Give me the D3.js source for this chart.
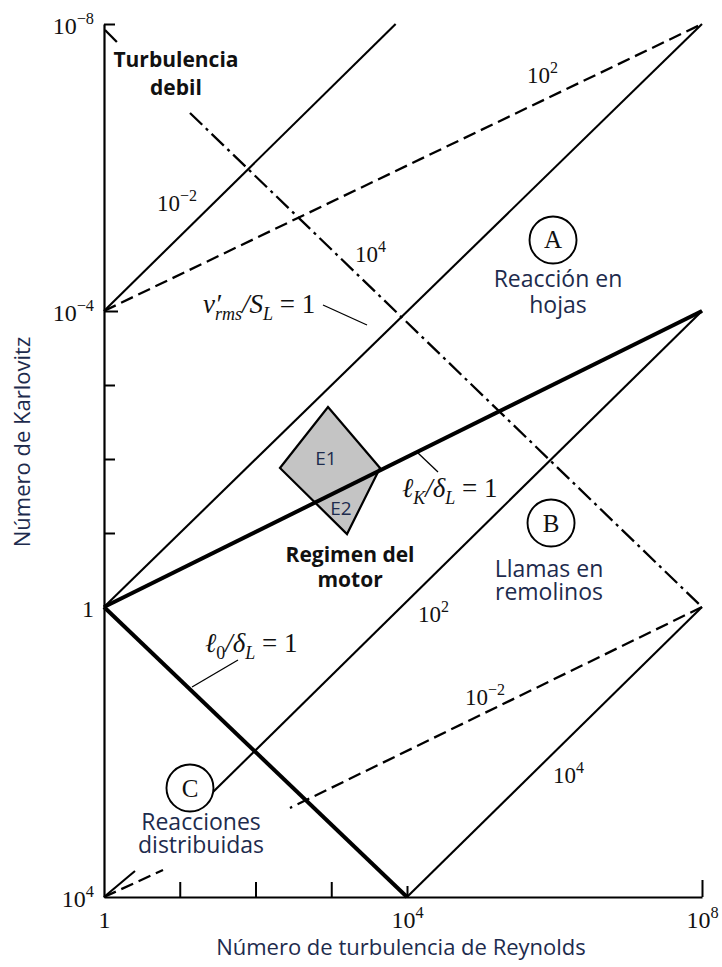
<!DOCTYPE html>
<html>
<head>
<meta charset="utf-8">
<script src="https://cdn.jsdelivr.net/npm/d3@7"></script>
<style>
  html, body { margin: 0; padding: 0; background: #fff; }
  svg { display: block; }
</style>
</head>
<body>
<svg id="chart" width="722" height="967"></svg>
<script>
// ---- Axis decades -------------------------------------------------------
const xMajorTicks = [1, 1e4, 1e8];
const xMinorTicks = [10, 100, 1000];
const yMajorTicks = [1e-8, 1e-4, 1, 1e4];
const yMinorTicks = [1e-3, 1e-2, 1e-1];

// ---- Regime boundaries, endpoints as [Re, Ka] ---------------------------
const solidThin = [
  [[1, 1e-4], [10 ** 3.85, 1e-8]],
  [[1, 1], [1e8, 1e-8]],
  [[1e8, 1e-4], [10 ** 1.439, 10 ** 2.552]],
  [[1, 1e4], [10 ** 0.409, 10 ** 3.641]],
  [[1e4, 1e4], [1e8, 1]]
];
const solidThick = [
  [[1, 1], [1e8, 1e-4]],   // lK/dL = 1
  [[1, 1], [1e4, 1e4]]     // l0/dL = 1
];
const dashed = [
  [[1, 1e-4], [1e8, 1e-8]],
  [[1e8, 1], [10 ** 2.455, 10 ** 2.772]],
  [[1, 1e4], [10 ** 0.779, 10 ** 3.628]]
];
const dashDot = [
  [[10 ** 0.013, 10 ** -7.916], [10 ** 0.17, 10 ** -7.75]],
  [[10 ** 1.135, 10 ** -6.76], [1e8, 1]]
];

// Engine operating window
const engineRegion = [
  [10 ** 2.957, 10 ** -2.703],
  [10 ** 3.644, 10 ** -1.878],
  [10 ** 3.208, 10 ** -0.986],
  [10 ** 2.323, 10 ** -1.878]
];

// ---- Annotations --------------------------------------------------------
const regimeCircles = [
  { letter: "A", at: [10 ** 5.98, 10 ** -4.99] },
  { letter: "B", at: [10 ** 5.953, 10 ** -1.135] },
  { letter: "C", at: [10 ** 1.135, 10 ** 2.497] }
];
const regimeNames = [
  { lines: ["Reacción en", "hojas"], at: [10 ** 6.047, 10 ** -4.334], gap: 26 },
  { lines: ["Llamas en", "remolinos"], at: [10 ** 5.925, 10 ** -0.405], gap: 23 },
  { lines: ["Reacciones", "distribuidas"], at: [10 ** 1.281, 10 ** 3.076], gap: 23 }
];
const boldNames = [
  { lines: ["Turbulencia", "debil"], at: [10 ** 0.95, 10 ** -7.401], gap: 28 },
  { lines: ["Regimen del", "motor"], at: [10 ** 3.248, 10 ** -0.608], gap: 25 }
];
const engineTags = [
  { text: "E1", at: [10 ** 2.931, 10 ** -1.919] },
  { text: "E2", at: [10 ** 3.129, 10 ** -1.243] }
];
const lineValueLabels = [
  { base: "10", exp: "−2", at: [10 ** 0.700, 10 ** -5.394] },
  { base: "10", exp: "2",  at: [10 ** 5.627, 10 ** -7.178] },
  { base: "10", exp: "4",  at: [10 ** 3.314, 10 ** -4.683] },
  { base: "10", exp: "2",  at: [10 ** 4.149, 10 ** 0.207] },
  { base: "10", exp: "−2", at: [10 ** 4.786, 10 ** 1.352] },
  { base: "10", exp: "4",  at: [10 ** 5.98, 10 ** 2.428] }
];
const leaders = [
  [[10 ** 2.891, 10 ** -4.084], [10 ** 3.472, 10 ** -3.811]],
  [[10 ** 4.149, 10 ** -2.081], [10 ** 4.420, 10 ** -1.824]],
  [[10 ** 1.769, 10 ** 0.731], [10 ** 1.162, 10 ** 1.103]]
];
const ratioLabels = [
  { at: [10 ** 1.307, 10 ** -3.973], parts: [
      { t: "v′", i: true },
      { t: "rms", i: true, sub: true, dx: -6, dy: 7 },
      { t: "/S", i: true, dy: -7 }, { t: "L", i: true, sub: true, dy: 7 },
      { t: " = 1", dy: -7 } ] },
  { at: [10 ** 3.934, 10 ** -1.486], parts: [
      { t: "ℓ", i: true }, { t: "K", i: true, sub: true, dy: 7 },
      { t: "/δ", i: true, dy: -7 }, { t: "L", i: true, sub: true, dy: 7 },
      { t: " = 1", dy: -7 } ] },
  { at: [10 ** 1.333, 10 ** 0.621], parts: [
      { t: "ℓ", i: true }, { t: "0", sub: true, dy: 7 },
      { t: "/δ", i: true, dy: -7 }, { t: "L", i: true, sub: true, dy: 7 },
      { t: " = 1", dy: -7 } ] }
];

const xTitle = "Número de turbulencia de Reynolds";
const yTitle = "Número de Karlovitz";

// ---- Scales --------------------------------------------------------------
const x = d3.scaleLog().domain([1, 1e4, 1e8]).range([104, 407, 702]);
const y = d3.scaleLog().domain([1e-8, 1e-4, 1, 1e4]).range([24, 311, 607, 897]);

const svg = d3.select("#chart");
const SERIF = "'Liberation Serif', 'Times New Roman', serif";
const SANS = "'Open Sans', 'Noto Sans', sans-serif";
const NAVY = "#1d2b4d";
const INK = "#111";

const line = d3.line().x(d => x(d[0])).y(d => y(d[1]));

// ---- Engine region (drawn under the boundary lines) ---------------------
svg.append("path")
  .attr("d", line(engineRegion) + "Z")
  .attr("fill", "#c4c4c4")
  .attr("stroke", "#000")
  .attr("stroke-width", 2.2)
  .attr("stroke-linejoin", "miter");

// ---- Boundary lines -----------------------------------------------------
const lineGroup = svg.append("g").attr("fill", "none").attr("stroke", "#000");
lineGroup.selectAll(".thin").data(solidThin).join("path")
  .attr("d", line).attr("stroke-width", 2.1);
lineGroup.selectAll(".thick").data(solidThick).join("path")
  .attr("d", line).attr("stroke-width", 4);
lineGroup.selectAll(".dash").data(dashed).join("path")
  .attr("d", line).attr("stroke-width", 2.3).attr("stroke-dasharray", "13,6");
lineGroup.selectAll(".dashdot").data(dashDot).join("path")
  .attr("d", line).attr("stroke-width", 2.3).attr("stroke-dasharray", "17,5,3,5");
lineGroup.selectAll(".leader").data(leaders).join("path")
  .attr("d", line).attr("stroke-width", 1.3);

// ---- Axes ---------------------------------------------------------------
function powerText(sel, v, size) {
  const e = Math.round(Math.log10(v));
  sel.text(null);
  if (e === 0) { sel.append("tspan").text("1"); return; }
  sel.append("tspan").text("10");
  sel.append("tspan").attr("dy", "-0.6em").attr("font-size", size * 0.68)
    .text(e < 0 ? "−" + (-e) : String(e));
}

const yAxis = svg.append("g").attr("transform", "translate(104,0)")
  .call(d3.axisLeft(y).tickValues(yMajorTicks).tickSize(0).tickSizeOuter(0).tickPadding(10));
yAxis.select(".domain").attr("stroke-width", 2.2);
yAxis.selectAll(".tick text")
  .attr("font-family", SERIF).attr("font-size", 24).attr("fill", INK).attr("dy", "0.4em")
  .each(function (d) { powerText(d3.select(this), d, 24); });

const xAxis = svg.append("g").attr("transform", "translate(0,897)")
  .call(d3.axisBottom(x).tickValues(xMajorTicks).tickSize(0).tickSizeOuter(0).tickPadding(14));
xAxis.select(".domain").attr("stroke-width", 2.2);
xAxis.selectAll(".tick text")
  .attr("font-family", SERIF).attr("font-size", 24).attr("fill", INK)
  .each(function (d) { powerText(d3.select(this), d, 24); });

// inward tick marks
function inwardTicks(axisFn, scale, values, size, transform) {
  const g = svg.append("g").attr("transform", transform)
    .call(axisFn(scale).tickValues(values).tickSizeInner(size).tickSizeOuter(0).tickFormat(""));
  g.select(".domain").remove();
  g.selectAll(".tick line").attr("stroke-width", 2);
}
inwardTicks(d3.axisLeft, y, [1e-8].concat(yMinorTicks), -11, "translate(104,0)");
inwardTicks(d3.axisLeft, y, [1e-4], -14, "translate(104,0)");
inwardTicks(d3.axisBottom, x, xMinorTicks, -15, "translate(0,897)");
inwardTicks(d3.axisBottom, x, [1e4], -11, "translate(0,897)");
inwardTicks(d3.axisBottom, x, [1e8], -17, "translate(0,897)");

// axis titles
svg.append("text")
  .attr("x", 401).attr("y", 955).attr("text-anchor", "middle")
  .attr("font-family", SANS).attr("font-size", 22).attr("fill", NAVY)
  .text(xTitle);
svg.append("text")
  .attr("transform", "translate(30,442) rotate(-90)").attr("text-anchor", "middle")
  .attr("font-family", SANS).attr("font-size", 22).attr("fill", NAVY)
  .text(yTitle);

// ---- Regime circles -----------------------------------------------------
const circ = svg.append("g").selectAll("g").data(regimeCircles).join("g")
  .attr("transform", d => `translate(${x(d.at[0])},${y(d.at[1])})`);
circ.append("circle").attr("r", 23.5).attr("fill", "#fff").attr("stroke", "#000").attr("stroke-width", 1.9);
circ.append("text").attr("text-anchor", "middle").attr("dy", 8.5)
  .attr("font-family", SERIF).attr("font-size", 25).attr("fill", INK)
  .text(d => d.letter);

// ---- Region names -------------------------------------------------------
function multiLine(data, opts) {
  const t = svg.append("g").selectAll("text").data(data).join("text")
    .attr("x", d => x(d.at[0])).attr("y", d => y(d.at[1]))
    .attr("text-anchor", "middle")
    .attr("font-family", SANS).attr("font-size", opts.size)
    .attr("font-weight", opts.weight).attr("fill", opts.fill);
  t.each(function (d) {
    const s = d3.select(this);
    d.lines.forEach((ln, i) => {
      s.append("tspan").attr("x", x(d.at[0])).attr("dy", i === 0 ? 0 : d.gap).text(ln);
    });
  });
}
multiLine(regimeNames, { size: 23, weight: 400, fill: NAVY });
multiLine(boldNames, { size: 21, weight: 700, fill: INK });

svg.append("g").selectAll("text").data(engineTags).join("text")
  .attr("x", d => x(d.at[0])).attr("y", d => y(d.at[1]))
  .attr("text-anchor", "middle")
  .attr("font-family", SANS).attr("font-size", 19).attr("fill", NAVY)
  .text(d => d.text);

// ---- Parameter values on the boundary lines ----------------------------
svg.append("g").selectAll("text").data(lineValueLabels).join("text")
  .attr("x", d => x(d.at[0])).attr("y", d => y(d.at[1]))
  .attr("font-family", SERIF).attr("font-size", 23).attr("fill", INK)
  .each(function (d) {
    const s = d3.select(this);
    s.append("tspan").text(d.base);
    s.append("tspan").attr("dy", "-0.6em").attr("font-size", 16).text(d.exp);
  });

// ---- Length-scale ratio labels -----------------------------------------
svg.append("g").selectAll("text").data(ratioLabels).join("text")
  .attr("x", d => x(d.at[0])).attr("y", d => y(d.at[1]))
  .attr("font-family", SERIF).attr("font-size", 27).attr("fill", INK)
  .each(function (d) {
    const s = d3.select(this);
    d.parts.forEach(p => {
      s.append("tspan")
        .attr("font-style", p.i ? "italic" : "normal")
        .attr("font-size", p.sub ? 18 : 27)
        .attr("dx", p.dx || 0).attr("dy", p.dy || 0)
        .text(p.t);
    });
  });
</script>
</body>
</html>
